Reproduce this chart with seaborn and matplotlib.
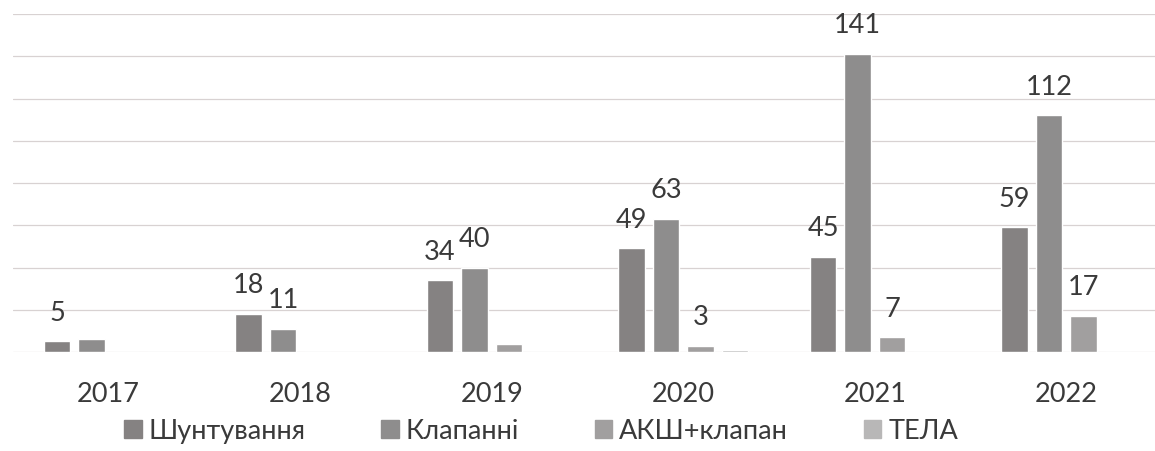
import pandas as pd
import matplotlib.pyplot as plt
import seaborn as sns

# --- Data ---
years = ["2017", "2018", "2019", "2020", "2021", "2022"]
series = ["Шунтування", "Клапанні", "АКШ+клапан", "ТЕЛА"]

shunt = [5, 18, 34, 49, 45, 59]
valve = [6, 11, 40, 63, 141, 112]
cabg_valve = [0, 0, 4, 3, 7, 17]
tela = [0, 0, 0, 1, 0, 0]

# value labels as printed on the chart ('' = no label shown)
shunt_lbl = ["5", "18", "34", "49", "45", "59"]
valve_lbl = ["", "11", "40", "63", "141", "112"]
cabg_lbl = ["", "", "", "3", "7", "17"]
tela_lbl = ["", "", "", "", "", ""]

colors = ["#858282", "#8e8d8d", "#a19f9f", "#b8b7b7"]

df = pd.DataFrame({
    "Рік": years * 4,
    "Серія": [s for s in series for _ in years],
    "Кількість": shunt + valve + cabg_valve + tela,
})

sns.set_theme(style="white")
plt.rcParams["font.family"] = ["Lato", "Open Sans", "DejaVu Sans"]
text_color = "#3a3a3a"
fs = 19.5

fig = plt.figure(figsize=(11.55, 4.52), dpi=100)
ax = fig.add_axes([13 / 1155, 99 / 452, 1149 / 1155, 338 / 452])

sns.barplot(data=df, x="Рік", y="Кількість", hue="Серія", hue_order=series,
            palette=colors, width=0.72, gap=0.22, saturation=1,
            legend=False, ax=ax)

labels = [shunt_lbl, valve_lbl, cabg_lbl, tela_lbl]
for cont, lbl in zip(ax.containers, labels):
    ax.bar_label(cont, labels=lbl, padding=12, fontsize=fs, color=text_color)

ax.set_ylim(0, 160)
ax.set_xlim(-0.5, 5.5)
ax.set_yticks(range(0, 161, 20))
ax.set_yticklabels([])
ax.tick_params(axis="y", length=0)
ax.tick_params(axis="x", length=0, pad=21, labelsize=fs, labelcolor=text_color)
ax.grid(axis="y", color="#d8d2d2", linewidth=0.9)
ax.set_axisbelow(True)
ax.set_xlabel("")
ax.set_ylabel("")
for sp in ax.spines.values():
    sp.set_visible(False)

handles = [plt.Rectangle((0, 0), 1, 1, color=c) for c in colors]
fig.legend(handles, series, loc="center", bbox_to_anchor=(541 / 1155, 1 - 432 / 452),
           ncol=4, frameon=False, fontsize=fs, labelcolor=text_color,
           handlelength=0.65, handleheight=0.65, handletextpad=0.25, columnspacing=2.8)

fig.savefig("out.png", dpi=100, facecolor="white")
